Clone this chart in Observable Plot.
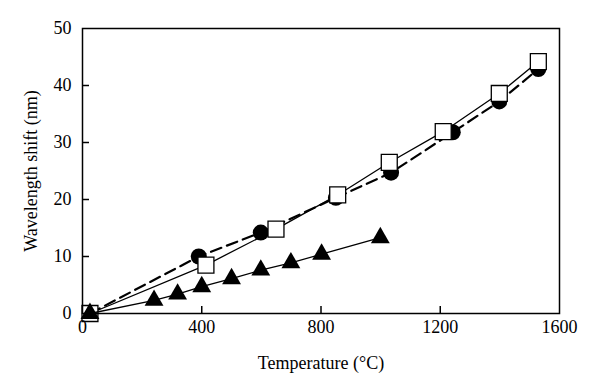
<!DOCTYPE html>
<html>
<head>
<meta charset="utf-8">
<script src="https://cdn.jsdelivr.net/npm/d3@7"></script>
<script src="https://cdn.jsdelivr.net/npm/@observablehq/plot@0.6"></script>
<style>
  html, body { margin: 0; padding: 0; background: #fff; }
  svg { font-family: "Liberation Serif", "DejaVu Serif", serif; }
</style>
</head>
<body>
<div id="chart"></div>
<script>
// Circles (dashed line)
const circleT = [25, 390, 598, 850, 1035, 1242, 1398, 1529];
const circleS = [0, 10.0, 14.2, 20.3, 24.7, 31.8, 37.2, 42.9];
// Squares (solid line)
const squareT = [25, 414, 649, 856, 1029, 1210, 1398, 1529];
const squareS = [0, 8.5, 14.8, 20.8, 26.5, 31.9, 38.6, 44.2];
// Triangles (solid line)
const triT = [25, 240, 319, 400, 500, 598, 699, 802, 999];
const triS = [0, 2.3, 3.4, 4.7, 6.1, 7.6, 8.9, 10.4, 13.3];

const xTicks = [0, 400, 800, 1200, 1600];
const yTicks = [0, 10, 20, 30, 40, 50];
const xInner = [400, 800, 1200];
const yInner = [10, 20, 30, 40];

const circles = circleT.map((t, i) => ({t, s: circleS[i]}));
const squares = squareT.map((t, i) => ({t, s: squareS[i]}));
const tris = triT.map((t, i) => ({t, s: triS[i]}));

const chart = Plot.plot({
  width: 600,
  height: 392,
  marginLeft: 82,
  marginRight: 41,
  marginTop: 28,
  marginBottom: 79,
  style: {fontFamily: '"Liberation Serif", "DejaVu Serif", serif', fontSize: "18px", color: "#000", background: "#fff"},
  x: {domain: [0, 1600]},
  y: {domain: [0, 50]},
  marks: [
    Plot.line(circles, {x: "t", y: "s", stroke: "black", strokeWidth: 2.2, strokeDasharray: "11,6"}),
    Plot.dot(circles, {x: "t", y: "s", r: 8, fill: "black", stroke: "none"}),
    Plot.line(squares, {x: "t", y: "s", stroke: "black", strokeWidth: 1.3}),
    Plot.dot(squares, {x: "t", y: "s", symbol: "square", r: 9, fill: "white", stroke: "black", strokeWidth: 1.3}),
    Plot.line(tris, {x: "t", y: "s", stroke: "black", strokeWidth: 1.3}),
    Plot.dot(tris, {x: "t", y: "s", symbol: "triangle", r: 7, fill: "black", stroke: "none"}),
    Plot.axisX(xInner, {tickSize: -7, tickFormat: () => "", label: null, strokeWidth: 1.5}),
    Plot.axisY(yInner, {tickSize: -7, tickFormat: () => "", label: null, strokeWidth: 1.5}),
    Plot.axisX(xTicks, {tickSize: 0, tickPadding: 7, fontSize: 18, tickFormat: d3.format("d"), label: "Temperature (°C)", labelAnchor: "center", labelArrow: "none", labelOffset: 55}),
    Plot.axisY(yTicks, {tickSize: 0, tickPadding: 11, fontSize: 18, tickFormat: d3.format("d"), label: "Wavelength shift (nm)", labelAnchor: "center", labelArrow: "none", labelOffset: 58}),
    Plot.frame({stroke: "black", strokeWidth: 1.5})
  ]
});
document.getElementById("chart").appendChild(chart);
</script>
</body>
</html>
